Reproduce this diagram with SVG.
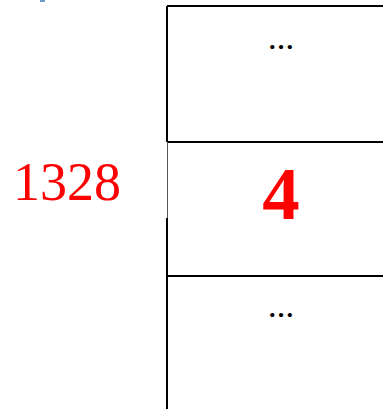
<svg xmlns="http://www.w3.org/2000/svg" width="383" height="409" viewBox="0 0 383 409">
<style>
.b{stroke:#000;stroke-width:2;fill:none}
.thin{stroke:#555;stroke-width:1;fill:none}
.dots{font-family:"Liberation Serif",serif;font-weight:bold;font-size:26px;fill:#000;text-anchor:middle}
.red{fill:#ff0000;font-family:"Liberation Serif",serif}
</style>
<rect x="40" y="0" width="5" height="2" fill="#6f9cc4"/>
<g id="cell-top">
<path class="b" d="M167,6 H383 M167,6 V142"/>
<text class="dots" x="281" y="49">…</text>
</g>
<g id="cell-mid">
<path class="b" d="M167,142 H383 M167,218 V276"/>
<path class="thin" d="M167.5,142 V218"/>
<text class="red" x="281" y="219" font-size="75" font-weight="bold" text-anchor="middle">4</text>
</g>
<g id="cell-bot">
<path class="b" d="M167,276 H383 M167,276 V409"/>
<text class="dots" x="281" y="317">…</text>
</g>
<g id="label">
<text class="red" x="67" y="200" font-size="54" text-anchor="middle">1328</text>
</g>
<g id="connectors"/>
</svg>
